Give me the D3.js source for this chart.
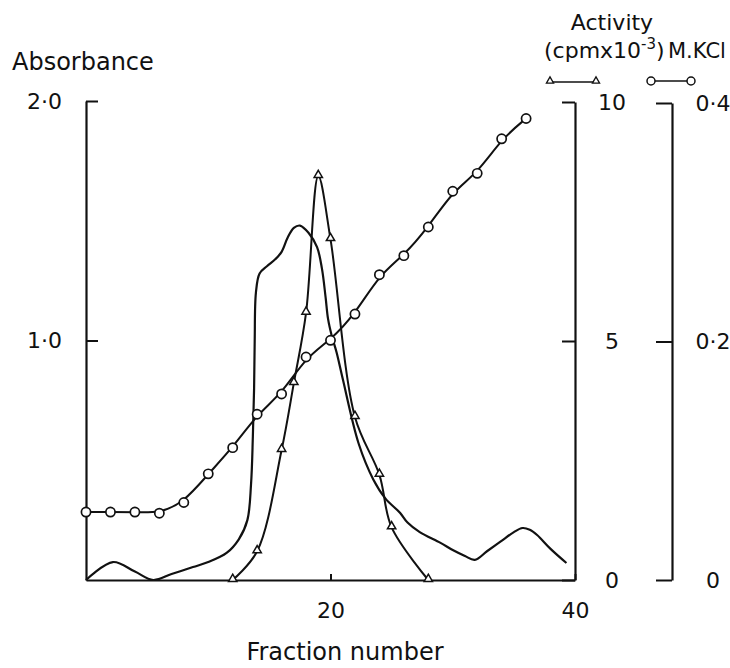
<!DOCTYPE html>
<html>
<head>
<meta charset="utf-8">
<script src="https://cdn.jsdelivr.net/npm/d3@7"></script>
<style>
body { margin: 0; background: #fff; }
svg { display: block; background: #fff; }
text { font-family: "DejaVu Sans", sans-serif; fill: #111; }
</style>
</head>
<body>
<svg id="chart" width="730" height="668"></svg>
<script>
// absorbance trace (continuous)
let absFraction = [0, 2.2, 4, 5.5, 7, 8.75, 10, 11.5, 12.5, 13.2, 13.5, 13.65, 13.75, 13.8, 13.9, 14.2, 14.8, 15.5, 16, 16.5, 17, 17.5, 18.2, 18.9, 19.3, 19.6, 19.8, 20.1, 20.5, 21, 22.3, 23.5, 24.5, 25.7, 26.3, 27.3, 29, 30, 31, 31.8, 32.8, 33.9, 35, 35.7, 36.3, 36.9, 38, 39.3];
let absorbance  = [0, 0.075, 0.035, 0, 0.025, 0.054, 0.075, 0.113, 0.17, 0.25, 0.4, 0.6, 0.8, 1.0, 1.2, 1.28, 1.31, 1.34, 1.37, 1.43, 1.47, 1.48, 1.45, 1.39, 1.3, 1.18, 1.09, 1.02, 0.95, 0.84, 0.57, 0.42, 0.34, 0.28, 0.24, 0.2, 0.155, 0.125, 0.1, 0.084, 0.12, 0.16, 0.2, 0.217, 0.21, 0.188, 0.13, 0.071];

// activity (cpm x 10^-3), triangles
let actFraction = [12, 14, 16, 17, 18, 19, 20, 22, 24, 25, 28];
let activity    = [0, 0.6, 2.72, 4.12, 5.59, 8.45, 7.13, 3.41, 2.2, 1.1, 0];

// M KCl gradient, circles
let kclFraction = [0, 2, 4, 6, 8, 10, 12, 14, 16, 18, 20, 22, 24, 26, 28, 30, 32, 34, 36];
let kcl         = [0.057, 0.057, 0.057, 0.056, 0.065, 0.089, 0.111, 0.139, 0.156, 0.187, 0.201, 0.223, 0.256, 0.272, 0.296, 0.326, 0.341, 0.37, 0.387];

let fractionTicks = [20, 40];
let absTicks = [1, 2];
let actTicks = [0, 5, 10];
let kclTicks = [0, 0.2, 0.4];

const svg = d3.select("#chart");

const x = d3.scaleLinear().domain([0, 40]).range([86, 575]);
const yAbs = d3.scaleLinear().domain([0, 2]).range([580, 101]);
const yAct = d3.scaleLinear().domain([0, 10]).range([580, 102]);
const yKcl = d3.scaleLinear().domain([0, 0.4]).range([580, 103]);

const dotFmt = d => d === 0 ? "0" : d3.format(".1f")(d).replace(".", "·");

// axes
const gLeft = svg.append("g")
	.attr("transform", "translate(86,0)")
	.call(d3.axisLeft(yAbs).tickValues(absTicks).tickSizeInner(-12).tickSizeOuter(0)
		.tickPadding(24).tickFormat(dotFmt));

const gBottom = svg.append("g")
	.attr("transform", "translate(0,580)")
	.call(d3.axisBottom(x).tickValues(fractionTicks).tickSizeInner(-6).tickSizeOuter(0)
		.tickPadding(22).tickFormat(d3.format("d")));

const gAct = svg.append("g")
	.attr("transform", "translate(575,0)")
	.call(d3.axisRight(yAct).tickValues(actTicks).tickSizeInner(-13).tickSizeOuter(0)
		.tickPadding(37).tickFormat(d3.format("d")));

const gKcl = svg.append("g")
	.attr("transform", "translate(672,0)")
	.call(d3.axisRight(yKcl).tickValues(kclTicks).tickSizeInner(-16).tickSizeOuter(0)
		.tickPadding(41).tickFormat(dotFmt));

[gLeft, gBottom, gAct, gKcl].forEach(g => {
	g.select(".domain").attr("stroke", "#111").attr("stroke-width", 2.2);
	g.selectAll(".tick line").attr("stroke", "#111").attr("stroke-width", 2);
	g.selectAll(".tick text").style("font-size", "22px").attr("fill", "#111");
	g.attr("font-family", null).attr("font-size", null);
});
gAct.selectAll(".tick text").attr("text-anchor", "middle");
gKcl.selectAll(".tick text").attr("text-anchor", "middle");

// curves
const absPts = absFraction.map((f, i) => [f, absorbance[i]]);
const actPts = actFraction.map((f, i) => [f, activity[i]]);
const kclPts = kclFraction.map((f, i) => [f, kcl[i]]);

svg.append("path")
	.datum(absPts)
	.attr("fill", "none")
	.attr("stroke", "#111")
	.attr("stroke-width", 2.2)
	.attr("d", d3.line().x(d => x(d[0])).y(d => yAbs(d[1])).curve(d3.curveCatmullRom.alpha(0.5)));

svg.append("path")
	.datum(kclPts)
	.attr("fill", "none")
	.attr("stroke", "#111")
	.attr("stroke-width", 2)
	.attr("d", d3.line().x(d => x(d[0])).y(d => yKcl(d[1])).curve(d3.curveBasis));

svg.append("path")
	.datum(actPts)
	.attr("fill", "none")
	.attr("stroke", "#111")
	.attr("stroke-width", 2)
	.attr("d", d3.line().x(d => x(d[0])).y(d => yAct(d[1])).curve(d3.curveCatmullRom.alpha(0.5)));

const tri = d3.symbol(d3.symbolTriangle, 30);

svg.append("g").selectAll("circle")
	.data(kclPts)
	.join("circle")
	.attr("cx", d => x(d[0]))
	.attr("cy", d => yKcl(d[1]))
	.attr("r", 4.6)
	.attr("fill", "#fff")
	.attr("stroke", "#111")
	.attr("stroke-width", 1.7);

svg.append("g").selectAll("path")
	.data(actPts)
	.join("path")
	.attr("transform", d => `translate(${x(d[0])},${yAct(d[1]) - 1})`)
	.attr("d", tri)
	.attr("fill", "#fff")
	.attr("stroke", "#111")
	.attr("stroke-width", 1.5);

// titles
svg.append("text").attr("x", 12).attr("y", 70).style("font-size", "24px").text("Absorbance");
svg.append("text").attr("x", 612).attr("y", 30).attr("text-anchor", "middle").style("font-size", "22px").text("Activity");
const cpm = svg.append("text").attr("x", 544).attr("y", 58).style("font-size", "22px");
cpm.append("tspan").text("(cpmx10");
cpm.append("tspan").attr("dy", -9).style("font-size", "15px").text("-3");
cpm.append("tspan").attr("dy", 9).text(")");
svg.append("text").attr("x", 668).attr("y", 58).style("font-size", "21px").text("M.KCl");
svg.append("text").attr("x", 345).attr("y", 660).attr("text-anchor", "middle").style("font-size", "24px").text("Fraction number");

// legend keys
const legend = svg.append("g").attr("stroke", "#111").attr("fill", "#fff");
legend.append("line").attr("x1", 550).attr("x2", 596).attr("y1", 82).attr("y2", 82).attr("stroke-width", 1.5);
legend.selectAll(".lt").data([550, 596]).join("path").attr("class", "lt")
	.attr("transform", d => `translate(${d},81)`)
	.attr("d", d3.symbol(d3.symbolTriangle, 22)).attr("stroke-width", 1.3);
legend.append("line").attr("x1", 651).attr("x2", 691).attr("y1", 81).attr("y2", 81).attr("stroke-width", 1.5);
legend.selectAll(".lc").data([651, 691]).join("circle").attr("class", "lc")
	.attr("cx", d => d).attr("cy", 81).attr("r", 4).attr("stroke-width", 1.5);
</script>
</body>
</html>
